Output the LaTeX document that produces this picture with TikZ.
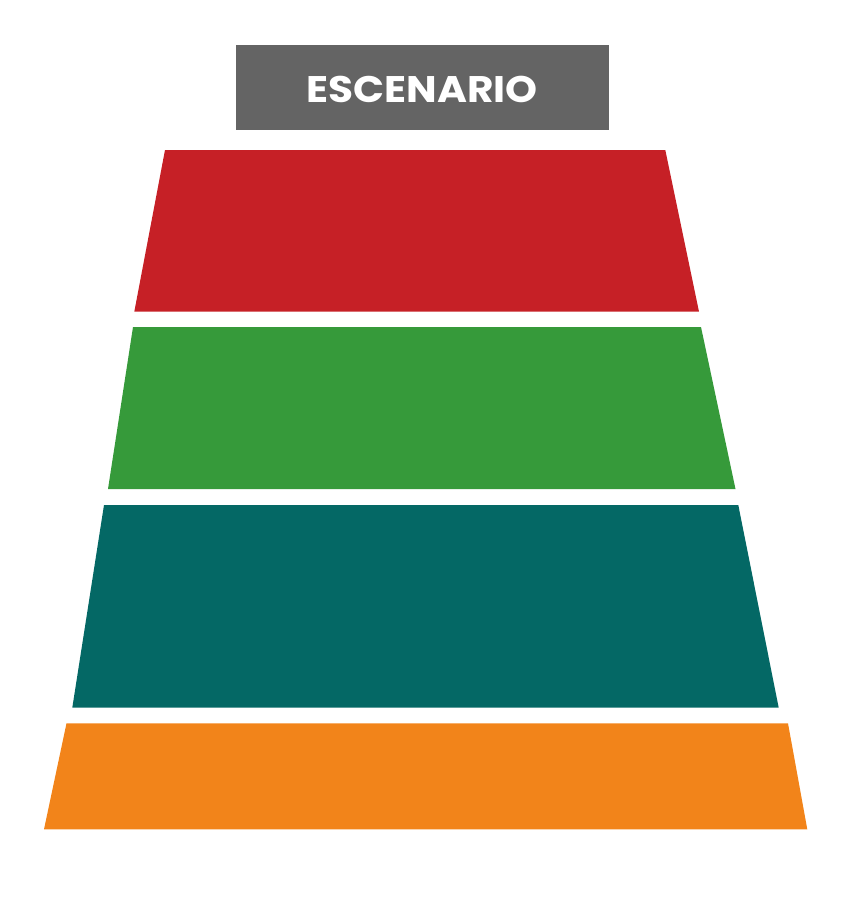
\documentclass[tikz,border=0pt]{standalone}
\usepackage{fontspec}
\setmainfont{Poppins}
\definecolor{stagegray}{HTML}{646464}
\definecolor{tierred}{HTML}{C62026}
\definecolor{tiergreen}{HTML}{369A3A}
\definecolor{tierteal}{HTML}{046865}
\definecolor{tierorange}{HTML}{F2841A}
\begin{document}
\begin{tikzpicture}[x=1pt,y=-1pt,
  stagebox/.style={fill=stagegray, minimum width=373pt, minimum height=85pt, inner sep=0pt},
  stagelabel/.style={text=white, inner sep=0pt, anchor=base, font=\fontsize{37}{40}\selectfont\bfseries}]
\useasboundingbox (0,0) rectangle (850,914);
\node[stagebox] (stage) at (422.3,87.5) {};
\node[stagelabel] (stagetext) at (422,102) {\scalebox{1.1}[1]{ESCENARIO}};
\fill[tierred] (165,150) -- (665.3,150) -- (699,311.7) -- (134.3,311.7) -- cycle;
\fill[tiergreen] (133,327) -- (701,327) -- (735.5,489) -- (108,489) -- cycle;
\fill[tierteal] (104,505) -- (738.3,505) -- (778.7,707.7) -- (72.3,707.7) -- cycle;
\fill[tierorange] (66.5,723.3) -- (788,723.3) -- (807.3,829.3) -- (44,829.3) -- cycle;
\end{tikzpicture}
\end{document}
